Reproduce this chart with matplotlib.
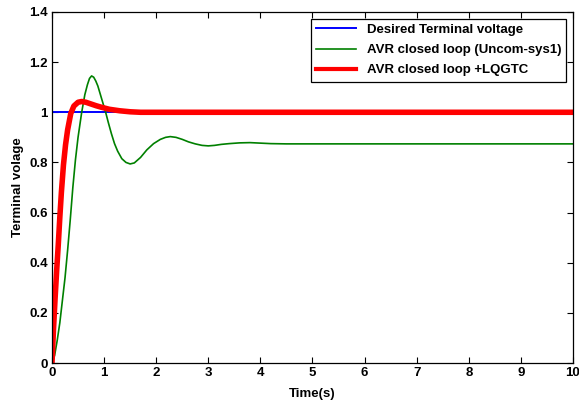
import numpy as np
import matplotlib
matplotlib.use("Agg")
import matplotlib.pyplot as plt
from matplotlib.ticker import FuncFormatter

# Step responses
t_ref = [0, 10]
v_ref = [1.0, 1.0]

t_uncomp = [0, 0.05, 0.1, 0.15, 0.2, 0.25, 0.3, 0.35, 0.4, 0.45, 0.5, 0.57,
            0.63, 0.68, 0.72, 0.76, 0.80, 0.84, 0.88, 0.93, 0.98, 1.03, 1.08,
            1.14, 1.2, 1.26, 1.34, 1.42, 1.5, 1.58, 1.7, 1.82, 1.95, 2.08,
            2.18, 2.27, 2.38, 2.5, 2.62, 2.75, 2.88, 3.0, 3.12, 3.25, 3.4,
            3.6, 3.8, 4.0, 4.2, 4.5, 10]
v_uncomp = [0, 0.03, 0.09, 0.16, 0.25, 0.34, 0.45, 0.57, 0.70, 0.81, 0.90,
            1.00, 1.07, 1.11, 1.135, 1.145, 1.14, 1.125, 1.105, 1.07, 1.035,
            1.0, 0.96, 0.915, 0.875, 0.845, 0.815, 0.80, 0.794, 0.798, 0.82,
            0.85, 0.875, 0.892, 0.900, 0.903, 0.900, 0.892, 0.882, 0.874,
            0.868, 0.866, 0.868, 0.872, 0.875, 0.878, 0.879, 0.877, 0.875,
            0.874, 0.874]

t_lqg = [0, 0.03, 0.06, 0.09, 0.12, 0.15, 0.18, 0.22, 0.26, 0.30, 0.36,
         0.42, 0.50, 0.57, 0.65, 0.75, 0.85, 0.95, 1.1, 1.3, 1.5, 1.7, 2.0, 10]
v_lqg = [0, 0.14, 0.26, 0.37, 0.47, 0.58, 0.68, 0.79, 0.87, 0.93, 0.995,
         1.025, 1.04, 1.043, 1.04, 1.033, 1.026, 1.02, 1.012, 1.006, 1.002,
         1.0, 1.0, 1.0]

labels = ["Desired Terminal voltage", "AVR closed loop (Uncom-sys1)",
          "AVR closed loop +LQGTC"]

plt.rcParams["font.family"] = ["Liberation Sans", "DejaVu Sans"]
plt.rcParams["font.weight"] = "bold"
plt.rcParams["font.size"] = 9.5

fig = plt.figure(figsize=(5.79, 4.0), dpi=100, facecolor="white")
ax = fig.add_axes([0.0898, 0.0925, 0.8998, 0.8775])

ax.plot(t_ref, v_ref, color="#0000ff", lw=1.4, label=labels[0])
ax.plot(t_uncomp, v_uncomp, color="#008000", lw=1.2, label=labels[1])
ax.plot(t_lqg, v_lqg, color="#ff0000", lw=4.0, label=labels[2])

ax.set_xlim(0, 10)
ax.set_ylim(0, 1.4)
ax.set_xticks(np.arange(0, 11, 1))
ax.set_yticks(np.arange(0, 1.41, 0.2))
ax.yaxis.set_major_formatter(FuncFormatter(lambda v, p: "%g" % round(v, 1)))
ax.tick_params(direction="in", top=True, right=True, length=4, width=0.8,
               labelsize=9.5, pad=3)
for lab in ax.get_xticklabels() + ax.get_yticklabels():
    lab.set_fontweight("bold")
for s in ax.spines.values():
    s.set_linewidth(0.9)

ax.set_xlabel("Time(s)", fontweight="bold", labelpad=6)
ax.set_ylabel("Terminal volage", fontweight="bold", labelpad=4)

leg = ax.legend(loc="upper right", fancybox=False, framealpha=1,
                edgecolor="black", borderaxespad=0.5, handlelength=3.0,
                labelspacing=0.6, prop={"weight": "bold", "size": 9.5})
leg.get_frame().set_linewidth(0.9)
leg.legend_handles[2].set_linewidth(3.0)

fig.savefig("out.png", dpi=100, facecolor="white")
plt.close(fig)
